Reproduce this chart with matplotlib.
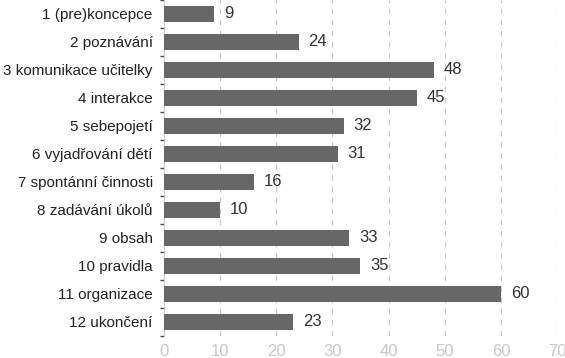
import matplotlib.pyplot as plt
import numpy as np

categories = ["1 (pre)koncepce", "2 poznávání", "3 komunikace učitelky", "4 interakce",
              "5 sebepojetí", "6 vyjadřování dětí", "7 spontánní činnosti",
              "8 zadávání úkolů", "9 obsah", "10 pravidla", "11 organizace", "12 ukončení"]
values = [9, 24, 48, 45, 32, 31, 16, 10, 33, 35, 60, 23]

plt.rcParams['font.family'] = ['Liberation Sans', 'DejaVu Sans']

fig = plt.figure(figsize=(5.65, 3.58), dpi=100)
ax = fig.add_axes([0.29, 0.0615, 0.696, 0.9385])

y = np.arange(len(categories))
ax.barh(y, values, height=0.6, color="#676767", zorder=3)
for yi, v in zip(y, values):
    ax.annotate(str(v), (v, yi), xytext=(7, 0), textcoords="offset points",
                va="center", ha="left", fontsize=12, color="#333333")

ax.set_xlim(0, 70)
ax.set_ylim(len(categories) - 0.5, -0.5)
ax.set_xticks(range(0, 71, 10))
ax.set_yticks(y)
ax.set_yticklabels(categories, fontsize=11, color="#222222")
ax.set_yticks(np.arange(-0.5, len(categories), 1), minor=True)
ax.tick_params(axis="y", which="major", length=0, pad=8)
ax.tick_params(axis="y", which="minor", length=3, color="#444444", width=1)
ax.tick_params(axis="x", length=0, labelsize=12, labelcolor="#c8c8c8", pad=6)

ax.grid(axis="x", linestyle=(0, (5, 5)), color="#c8c8c8", linewidth=0.8, zorder=0)
for s in ["top", "right", "bottom"]:
    ax.spines[s].set_visible(False)
ax.spines["left"].set_color("#cccccc")

fig.savefig("out.png", dpi=100)
